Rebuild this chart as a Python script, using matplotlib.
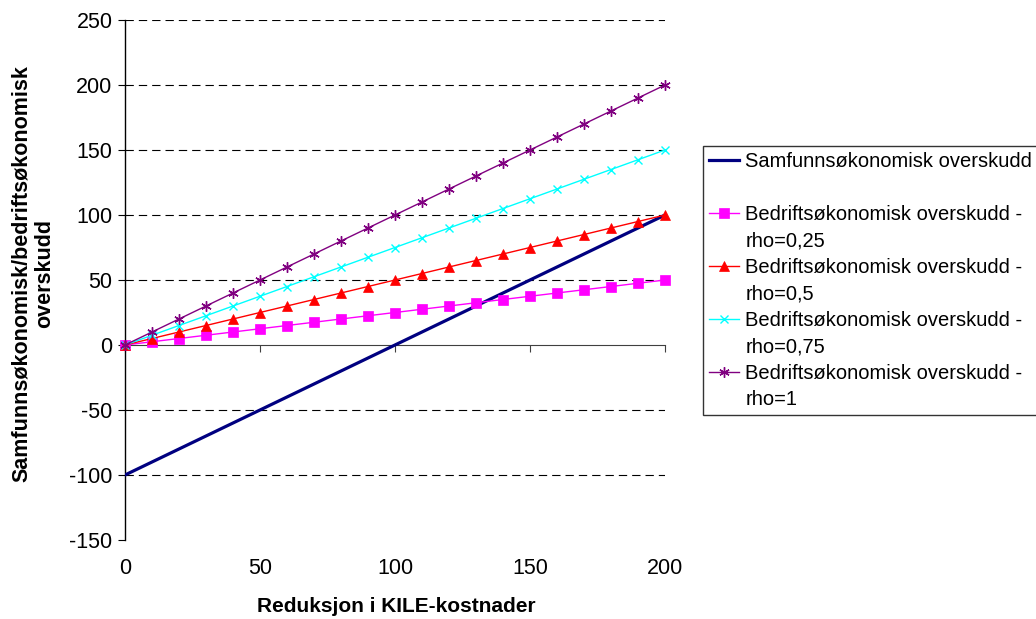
import matplotlib.pyplot as plt
from matplotlib.lines import Line2D

plt.rcParams['font.family'] = ['Liberation Sans', 'DejaVu Sans']
plt.rcParams['axes.unicode_minus'] = False

# data
reduksjon = [0, 10, 20, 30, 40, 50, 60, 70, 80, 90, 100,
             110, 120, 130, 140, 150, 160, 170, 180, 190, 200]
samfunn = [-100, -90, -80, -70, -60, -50, -40, -30, -20, -10, 0,
           10, 20, 30, 40, 50, 60, 70, 80, 90, 100]
rho_025 = [0, 2.5, 5, 7.5, 10, 12.5, 15, 17.5, 20, 22.5, 25,
           27.5, 30, 32.5, 35, 37.5, 40, 42.5, 45, 47.5, 50]
rho_05 = [0, 5, 10, 15, 20, 25, 30, 35, 40, 45, 50,
          55, 60, 65, 70, 75, 80, 85, 90, 95, 100]
rho_075 = [0, 7.5, 15, 22.5, 30, 37.5, 45, 52.5, 60, 67.5, 75,
           82.5, 90, 97.5, 105, 112.5, 120, 127.5, 135, 142.5, 150]
rho_1 = [0, 10, 20, 30, 40, 50, 60, 70, 80, 90, 100,
         110, 120, 130, 140, 150, 160, 170, 180, 190, 200]
rho_labels = ['rho=0,25', 'rho=0,5', 'rho=0,75', 'rho=1']
xticks = [0, 50, 100, 150, 200]
yticks = [-150, -100, -50, 0, 50, 100, 150, 200, 250]

fig = plt.figure(figsize=(10.36, 6.19), dpi=100)
ax = fig.add_axes([125 / 1036, 79 / 619, 540 / 1036, 520 / 619])

# gridlines (not at 0 and bottom)
for y in yticks:
    if y not in (0, yticks[0]):
        ax.axhline(y, color='black', lw=0.8, ls=(0, (7.5, 4.5)), zorder=1)

ax.plot(reduksjon, samfunn, color='#000080', lw=2.3, zorder=3)
series = [
    (rho_025, '#FF00FF', 's', 6.5, 0.5),
    (rho_05, '#FF0000', '^', 6.5, 0.5),
    (rho_075, '#00FFFF', 'x', 6, 1.0),
    (rho_1, '#800080', (6, 2, 0), 7.5, 1.0),
]
handles = [Line2D([], [], color='#000080', lw=2.3), Line2D([], [], ls='none')]
labels = ['Samfunnsøkonomisk overskudd', ' ']
for (vals, col, mk, ms, mew), lab in zip(series, rho_labels):
    ax.plot(reduksjon, vals, color=col, lw=1.0, marker=mk, ms=ms,
            mew=mew, mec=col, mfc=col, clip_on=False, zorder=4)
    handles += [Line2D([], [], color=col, lw=1.0, marker=mk, ms=ms, mew=mew),
                Line2D([], [], ls='none')]
    labels += ['Bedriftsøkonomisk overskudd -', lab]

ax.set_xlim(0, 200)
ax.set_ylim(-150, 250)
ax.spines['right'].set_visible(False)
ax.spines['top'].set_visible(False)
ax.spines['bottom'].set_position(('data', 0))
ax.spines['bottom'].set_color('#404040')
ax.spines['left'].set_linewidth(1.0)
ax.set_yticks(yticks)
ax.set_xticks(xticks)
ax.tick_params(axis='y', direction='out', length=5, labelsize=15.5, pad=4)
ax.tick_params(axis='x', direction='out', length=5, labelbottom=False, color='#404040')
for x in xticks:
    ax.text(x, -0.035, str(x), transform=ax.get_xaxis_transform(),
            ha='center', va='top', fontsize=15.5)

fig.text(396 / 1036, 1 - 607 / 619, 'Reduksjon i KILE-kostnader',
         ha='center', va='center', fontsize=15, fontweight='bold')
fig.text(33 / 1036, 1 - 274 / 619, 'Samfunnsøkonomisk/bedriftsøkonomisk\noverskudd',
         ha='center', va='center', rotation=90, fontsize=15.5,
         fontweight='bold', linespacing=1.1)

leg = fig.legend(handles, labels, loc='upper left',
                 bbox_to_anchor=(703 / 1036, 1 - 146 / 619),
                 fontsize=14.5, frameon=True, fancybox=False, shadow=False,
                 borderpad=0.3, labelspacing=0.37, handlelength=1.5,
                 handletextpad=0.3, borderaxespad=0)
leg.get_frame().set_edgecolor('black')
leg.get_frame().set_linewidth(1.0)

fig.savefig('out.png', dpi=100)
